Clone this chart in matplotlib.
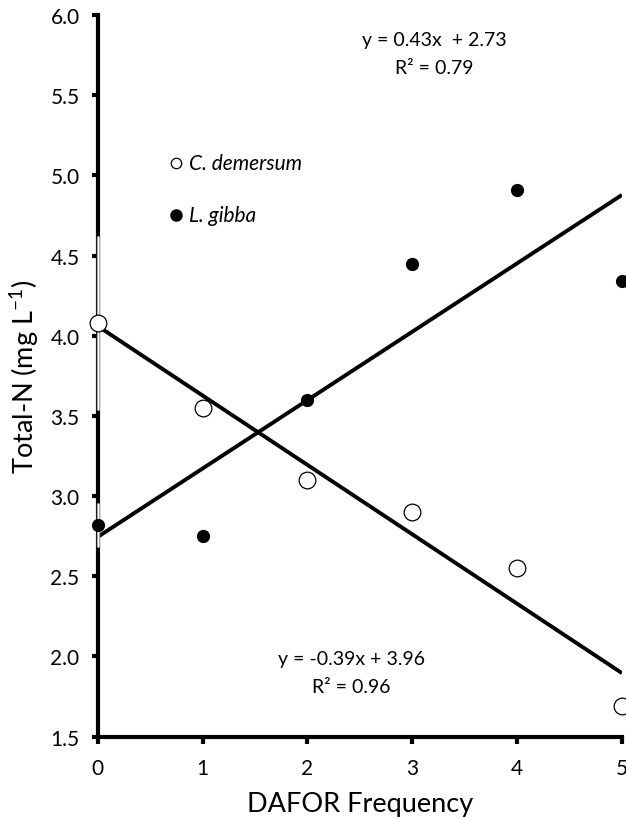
import numpy as np
import matplotlib
matplotlib.use("Agg")
import matplotlib.pyplot as plt

plt.rcParams['font.family'] = ['Lato', 'DejaVu Sans']
plt.rcParams['mathtext.default'] = 'regular'

# DAFOR frequency classes
dafor = [0, 1, 2, 3, 4, 5]

# Total-N (mg L-1)
c_demersum = [4.08, 3.55, 3.10, 2.90, 2.55, 1.69]
l_gibba = [2.82, 2.75, 3.60, 4.45, 4.91, 4.34]

# error bars shown only at DAFOR 0
c_dem_err0 = 0.54
l_gib_err0 = 0.14

eq_gibba = ['y = 0.43x  + 2.73', 'R\u00b2 = 0.79']
eq_demersum = ['y = -0.39x + 3.96', 'R\u00b2 = 0.96']

fig = plt.figure(figsize=(6.26, 8.2), dpi=100)
ax = fig.add_axes([0.156, 0.1004, 0.8376, 0.8801])

x = np.array(dafor)

# trend lines (least squares)
for ys in (l_gibba, c_demersum):
    m, b = np.polyfit(x, ys, 1)
    xx = np.array([0, 5])
    ax.plot(xx, m * xx + b, color='black', lw=2.8, zorder=3, solid_capstyle='butt')

# error bars at x=0 (grey outline, white core)
for y0, e in ((c_demersum[0], c_dem_err0), (l_gibba[0], l_gib_err0)):
    ax.plot([x[0], x[0]], [y0 - e, y0 + e], color='#9a9a9a', lw=2.4,
            zorder=5, clip_on=False, solid_capstyle='butt')
    ax.plot([x[0], x[0]], [y0 - e, y0 + e], color='white', lw=0.9,
            zorder=5.1, clip_on=False, solid_capstyle='butt')

ax.plot(x, l_gibba, 'o', color='black', ms=8.5, zorder=6, clip_on=False)
ax.plot(x, c_demersum, 'o', mfc='white', mec='black', mew=0.9, ms=12,
        zorder=6, clip_on=False)

ax.set_xlim(0, 5)
ax.set_ylim(1.5, 6.0)
ax.set_xticks(range(0, 6))
ax.set_yticks(np.arange(1.5, 6.01, 0.5))
ax.set_yticklabels([f'{v:.1f}' for v in np.arange(1.5, 6.01, 0.5)])

for s in ('top', 'right'):
    ax.spines[s].set_visible(False)
for s in ('left', 'bottom'):
    ax.spines[s].set_linewidth(3.0)
    ax.spines[s].set_zorder(4)

ax.tick_params(axis='y', direction='out', length=4, width=3, pad=9, labelsize=15)
ax.tick_params(axis='x', direction='out', length=5, width=3, pad=10, labelsize=15)

ax.set_xlabel('DAFOR Frequency', fontsize=19.5, labelpad=10)
ax.set_ylabel('Total-N (mg L$^{-1}$)', fontsize=19.5, labelpad=7)

# legend drawn as text + markers
ax.plot([0.75], [5.08], 'o', mfc='white', mec='black', mew=0.9, ms=7.5)
ax.plot([0.75], [4.75], 'o', color='black', ms=8)
ax.text(0.87, 5.08, 'C. demersum', style='italic', fontsize=15, va='center', ha='left')
ax.text(0.87, 4.75, 'L. gibba', style='italic', fontsize=15, va='center', ha='left')

# regression equations
ax.text(3.21, 5.85, eq_gibba[0], fontsize=14, ha='center', va='center')
ax.text(3.21, 5.67, eq_gibba[1], fontsize=14, ha='center', va='center')
ax.text(2.42, 1.99, eq_demersum[0], fontsize=14, ha='center', va='center')
ax.text(2.42, 1.81, eq_demersum[1], fontsize=14, ha='center', va='center')

fig.savefig('out.png', dpi=100)
